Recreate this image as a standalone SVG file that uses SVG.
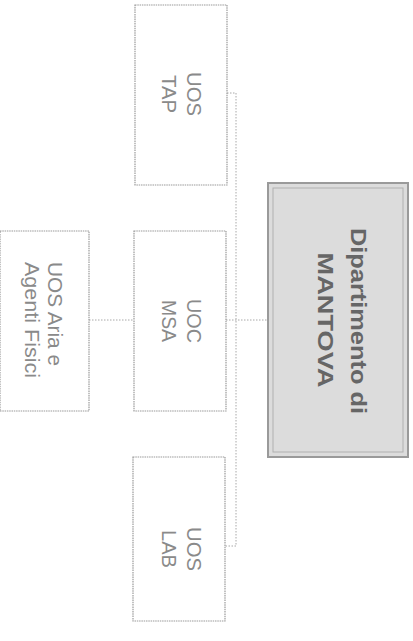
<svg xmlns="http://www.w3.org/2000/svg" width="413" height="641" viewBox="0 0 413 641">
<style>
.box{fill:#ffffff;stroke:#9a9a9a;stroke-width:1.2;stroke-dasharray:1.5 0.8}
.t{font-family:"Liberation Sans",Arial,sans-serif;font-size:20px;fill:#8a8a8a}
.tb{font-family:"Liberation Sans",Arial,sans-serif;font-size:22px;font-weight:bold;fill:#666666}
.c{fill:none;stroke:#a8a8a8;stroke-width:1;stroke-dasharray:1.5 1.5}
</style>
<rect width="413" height="641" fill="#ffffff"/>
<g id="connectors">
<path class="c" d="M227 93 H236 V546 H225"/>
<path class="c" d="M89 320 H134"/>
<path class="c" d="M226 320 H268"/>
</g>
<g id="dip">
<rect x="268" y="183" width="140" height="274" fill="#dcdcdc" stroke="#9a9a9a" stroke-width="2"/>
<rect x="273" y="188" width="130" height="264" fill="none" stroke="#b0b0b0" stroke-width="1"/>
<text class="tb" transform="translate(351,321) rotate(90)" text-anchor="middle" textLength="186" lengthAdjust="spacingAndGlyphs">Dipartimento di</text>
<text class="tb" transform="translate(318,320) rotate(90)" text-anchor="middle" textLength="135" lengthAdjust="spacingAndGlyphs">MANTOVA</text>
</g>
<g id="tap">
<rect class="box" x="135" y="5" width="92" height="180"/>
<text class="t" transform="translate(187,94) rotate(90)" text-anchor="middle" textLength="44" lengthAdjust="spacingAndGlyphs">UOS</text>
<text class="t" transform="translate(162,94) rotate(90)" text-anchor="middle" textLength="38" lengthAdjust="spacingAndGlyphs">TAP</text>
</g>
<g id="msa">
<rect class="box" x="134" y="231" width="92" height="180"/>
<text class="t" transform="translate(187,321) rotate(90)" text-anchor="middle" textLength="44" lengthAdjust="spacingAndGlyphs">UOC</text>
<text class="t" transform="translate(162,321) rotate(90)" text-anchor="middle" textLength="42" lengthAdjust="spacingAndGlyphs">MSA</text>
</g>
<g id="lab">
<rect class="box" x="133" y="457" width="92" height="164"/>
<text class="t" transform="translate(187,549) rotate(90)" text-anchor="middle" textLength="44" lengthAdjust="spacingAndGlyphs">UOS</text>
<text class="t" transform="translate(162,549) rotate(90)" text-anchor="middle" textLength="38" lengthAdjust="spacingAndGlyphs">LAB</text>
</g>
<g id="aria">
<rect class="box" x="0" y="231" width="89" height="180"/>
<text class="t" transform="translate(48,262) rotate(90)" textLength="104" lengthAdjust="spacingAndGlyphs">UOS Aria e</text>
<text class="t" transform="translate(25,262) rotate(90)" textLength="116" lengthAdjust="spacingAndGlyphs">Agenti Fisici</text>
</g>
</svg>
